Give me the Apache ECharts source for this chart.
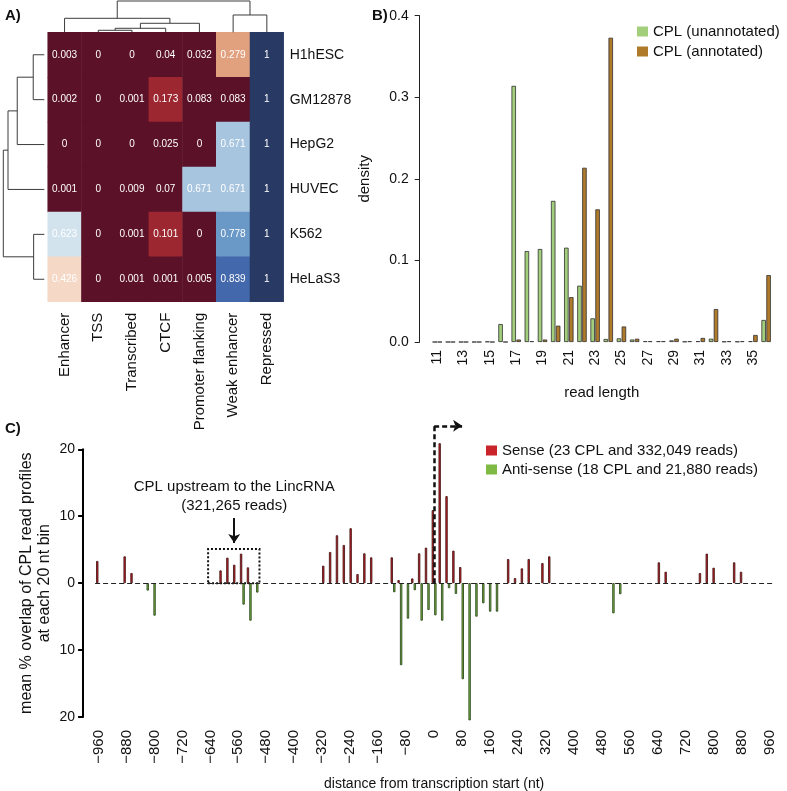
<!DOCTYPE html>
<html><head><meta charset="utf-8">
<script src="https://cdn.jsdelivr.net/npm/echarts@6/dist/echarts.min.js"></script>
<style>html,body{margin:0;padding:0;background:#fff}#c{width:787px;height:791px}</style>
</head><body><div id="c"></div>
<script>
// ---------- Panel A data ----------
const states = ['Enhancer','TSS','Transcribed','CTCF','Promoter flanking','Weak enhancer','Repressed'];
const cellLines = ['H1hESC','GM12878','HepG2','HUVEC','K562','HeLaS3'];
const rowH1hESC  = [0.003,0,0,0.04,0.032,0.279,1];
const rowGM12878 = [0.002,0,0.001,0.173,0.083,0.083,1];
const rowHepG2   = [0,0,0,0.025,0,0.671,1];
const rowHUVEC   = [0.001,0,0.009,0.07,0.671,0.671,1];
const rowK562    = [0.623,0,0.001,0.101,0,0.778,1];
const rowHeLaS3  = [0.426,0,0.001,0.001,0.005,0.839,1];
const colTree = {h:1.0, c:[{h:0.447, c:['Enhancer',{h:0.288, c:[{h:0.128, c:[{h:0.064, c:['TSS','Transcribed']},'CTCF']},'Promoter flanking']}]},{h:0.553, c:['Weak enhancer','Repressed']}]};
const rowTree = {h:1.0, c:[{h:0.885, c:[{h:0.66, c:[{h:0.27, c:['H1hESC','GM12878']},'HepG2']},'HUVEC']},{h:0.26, c:['K562','HeLaS3']}]};

// ---------- Panel B data ----------
const readLengths = ['11','12','13','14','15','16','17','18','19','20','21','22','23','24','25','26','27','28','29','30','31','32','33','34','35','36'];
const cplUnannotated = [0,0,0,0,0.0005,0.022,0.314,0.1115,0.114,0.173,0.1156,0.069,0.029,0.0037,0.0045,0.003,0.001,0.001,0.002,0.0005,0.001,0.004,0.0005,0.0005,0.001,0.027];
const cplAnnotated   = [0,0,0,0,0,0,0.003,0.001,0.003,0.02,0.055,0.2136,0.1626,0.373,0.019,0.004,0.001,0.001,0.004,0.001,0.005,0.0404,0.001,0.001,0.0086,0.082];

// ---------- Panel C data (99 bins of 20 nt spanning -960..960) ----------
const binCount = 99;
const senseBins = [0,4,5,18,19,20,21,22,33,34,35,36,37,38,39,40,43,44,46,47,48,49,50,51,52,53,60,61,62,63,65,66,82,83,88,89,90,93,94];
const senseVals = [3.3,4.0,1.5,1.9,3.8,2.75,4.4,2.35,2.6,4.65,7.15,5.7,8.2,1.35,4.45,3.85,3.85,0.45,0.7,4.45,5.3,10.9,20.9,13.0,4.85,2.4,3.6,0.75,2.2,3.6,3.0,4.0,3.1,1.7,1.5,4.4,2.3,3.1,1.7];
const antiBins  = [7,8,21,22,23,43,44,45,46,47,48,49,50,51,52,53,54,55,56,57,58,75,76];
const antiVals  = [-1.1,-4.85,-3.2,-5.6,-1.4,-1.35,-12.25,-5.3,-1.05,-5.6,-4.0,-4.8,-5.6,-0.75,-1.6,-14.35,-20.5,-5.0,-3.0,-4.25,-4.25,-4.5,-1.65];
const distTicks = {min:-960, max:960, step:80};

// ---------- build ----------
const FONT = '"Liberation Sans", Arial, Helvetica, sans-serif';
const heatRows = [rowH1hESC,rowGM12878,rowHepG2,rowHUVEC,rowK562,rowHeLaS3];
const heatData = [];
heatRows.forEach((r,ri)=>r.forEach((v,ci)=>heatData.push([ci,ri,v])));

function treeSegs(tree, order){
  const segs=[];
  (function lay(n){
    if(typeof n==='string') return {p:order.indexOf(n), h:0};
    const a=lay(n.c[0]), b=lay(n.c[1]);
    segs.push([a.p,a.h,b.p,b.h,n.h]);
    return {p:(a.p+b.p)/2, h:n.h};
  })(tree);
  return segs;
}
function dendro(horizontal){
  return function(params, api){
    const a=api.value(0), ah=api.value(1), b=api.value(2), bh=api.value(3), h=api.value(4);
    const raw = horizontal ? [[ah,a],[h,a],[h,b],[bh,b]] : [[a,ah],[a,h],[b,h],[b,bh]];
    return {type:'polyline', shape:{points:raw.map(p=>api.coord(p))}, style:{stroke:'#3c3c3c', lineWidth:1, fill:null}};
  };
}
const bins = Array.from({length:binCount},(_,i)=>String(i));
const senseData = bins.map(()=>'-'); senseBins.forEach((b,i)=>senseData[b]=senseVals[i]);
const antiData = bins.map(()=>'-'); antiBins.forEach((b,i)=>antiData[b]=antiVals[i]);
const minus = v => v<0 ? '\u2212'+(-v) : String(v);

const txt = {color:'#111', fontFamily:FONT};
const option = {
  animation:false,
  backgroundColor:'#fff',
  textStyle:{fontFamily:FONT},
  title:[
    {text:'A)', left:5, top:8, padding:0, textStyle:{fontSize:15, fontWeight:'bold', color:'#111', fontFamily:FONT}},
    {text:'B)', left:372, top:8, padding:0, textStyle:{fontSize:15, fontWeight:'bold', color:'#111', fontFamily:FONT}},
    {text:'C)', left:5, top:421, padding:0, textStyle:{fontSize:15, fontWeight:'bold', color:'#111', fontFamily:FONT}}
  ],
  legend:[
    {data:['CPL (unannotated)','CPL (annotated)'], left:632, top:19, orient:'vertical', itemWidth:11, itemHeight:10, itemGap:5, selectedMode:false, icon:'rect', itemStyle:{borderWidth:0}, textStyle:Object.assign({fontSize:15},txt)},
    {data:['Sense (23 CPL and 332,049 reads)','Anti-sense (18 CPL and 21,880 reads)'], left:481, top:438, orient:'vertical', itemWidth:11, itemHeight:10, itemGap:4, selectedMode:false, icon:'rect', itemStyle:{borderWidth:0}, textStyle:Object.assign({fontSize:15},txt)}
  ],
  visualMap:[{type:'piecewise', show:false, seriesIndex:0, dimension:2, pieces:[
    {gte:0, lt:0.1, color:'#5b1128'},
    {gte:0.1, lt:0.2, color:'#9d2731'},
    {gte:0.2, lt:0.3, color:'#e1a17f'},
    {gte:0.3, lt:0.5, color:'#f5d9c6'},
    {gte:0.5, lt:0.65, color:'#d2e3ee'},
    {gte:0.65, lt:0.7, color:'#a7c5df'},
    {gte:0.7, lt:0.8, color:'#6a99c8'},
    {gte:0.8, lt:0.9, color:'#4368ab'},
    {gte:0.9, lte:1, color:'#283a63'}
  ]}],
  grid:[
    {left:47.7, top:32.3, width:236, height:269.4, outerBoundsMode:'none'},
    {left:47.7, top:1, width:236, height:31.3, outerBoundsMode:'none'},
    {left:3.3, top:32.3, width:41, height:269.4, outerBoundsMode:'none'},
    {left:430.7, top:15.7, width:342, height:326.3, outerBoundsMode:'none'},
    {left:95.1, top:449.3, width:678, height:267.7, outerBoundsMode:'none'},
    {left:98.5, top:422.5, width:671.3, height:294.5, outerBoundsMode:'none'}
  ],
  xAxis:[
    {type:'category', gridIndex:0, data:states, axisLine:{show:false}, axisTick:{show:false}, splitLine:{show:false},
     axisLabel:Object.assign({rotate:90, margin:11, fontSize:15, interval:0}, txt)},
    {type:'value', gridIndex:1, min:-0.5, max:6.5, show:false, splitLine:{show:false}},
    {type:'value', gridIndex:2, min:0, max:1, inverse:true, show:false, splitLine:{show:false}},
    {type:'category', gridIndex:3, data:readLengths, axisLine:{show:false}, axisTick:{show:false}, splitLine:{show:false},
     axisLabel:Object.assign({rotate:90, interval:1, margin:8, fontSize:14}, txt),
     name:'read length', nameLocation:'middle', nameGap:43, nameMoveOverlap:false, nameTextStyle:Object.assign({fontSize:15}, txt)},
    {type:'category', gridIndex:4, data:bins, show:false},
    {type:'value', gridIndex:5, min:distTicks.min, max:distTicks.max, interval:distTicks.step,
     axisLine:{show:false}, axisTick:{show:false}, splitLine:{show:false},
     axisLabel:Object.assign({rotate:90, margin:13, fontSize:15, formatter:minus}, txt),
     name:'distance from transcription start (nt)', nameLocation:'middle', nameGap:60, nameMoveOverlap:false, nameTextStyle:Object.assign({fontSize:14}, txt)}
  ],
  yAxis:[
    {type:'category', gridIndex:0, data:cellLines, inverse:true, position:'right', axisLine:{show:false}, axisTick:{show:false}, splitLine:{show:false},
     axisLabel:Object.assign({margin:6, fontSize:14, interval:0}, txt)},
    {type:'value', gridIndex:1, min:0, max:1, show:false, splitLine:{show:false}},
    {type:'value', gridIndex:2, min:-0.5, max:5.5, inverse:true, show:false, splitLine:{show:false}},
    {type:'value', gridIndex:3, min:0, max:0.4, interval:0.1, offset:11,
     axisLine:{show:true, lineStyle:{color:'#222', width:1}}, axisTick:{show:true, length:5, lineStyle:{color:'#222', width:1}}, splitLine:{show:false},
     axisLabel:Object.assign({formatter:v=>v.toFixed(1), margin:11, fontSize:14}, txt),
     name:'density', nameLocation:'middle', nameGap:47, nameMoveOverlap:false, nameRotate:90, nameTextStyle:Object.assign({fontSize:15}, txt)},
    {type:'value', gridIndex:4, min:-20, max:20, interval:10, offset:12,
     axisLine:{show:true, lineStyle:{color:'#000', width:2}}, axisTick:{show:true, length:5, lineStyle:{color:'#000', width:2}}, splitLine:{show:false},
     axisLabel:Object.assign({formatter:v=>String(Math.abs(v)), margin:8, fontSize:14}, txt),
     name:'mean % overlap of CPL read profiles\nat each 20 nt bin', nameLocation:'middle', nameGap:30, nameMoveOverlap:false, nameRotate:90,
     nameTextStyle:Object.assign({fontSize:16, lineHeight:18}, txt)},
    {type:'value', gridIndex:5, min:-20, max:24, show:false, splitLine:{show:false}}
  ],
  series:[
    {type:'heatmap', xAxisIndex:0, yAxisIndex:0, data:heatData, silent:true,
     label:{show:true, color:'#fff', fontSize:10, fontFamily:FONT, formatter:p=>String(p.value[2])},
     itemStyle:{borderWidth:0}},
    {type:'custom', xAxisIndex:1, yAxisIndex:1, silent:true, renderItem:dendro(false), data:treeSegs(colTree, states), encode:{x:[0,2], y:[1,3,4]}},
    {type:'custom', xAxisIndex:2, yAxisIndex:2, silent:true, renderItem:dendro(true), data:treeSegs(rowTree, cellLines), encode:{x:[1,3,4], y:[0,2]}},
    {type:'bar', name:'CPL (unannotated)', xAxisIndex:3, yAxisIndex:3, data:cplUnannotated, barWidth:4.5, barGap:'10%', silent:true,
     itemStyle:{color:'#a3cf7d', borderColor:'#2e2e2e', borderWidth:0.8}},
    {type:'bar', name:'CPL (annotated)', xAxisIndex:3, yAxisIndex:3, data:cplAnnotated, barWidth:4.5, barGap:'10%', silent:true,
     itemStyle:{color:'#b07a2b', borderColor:'#2e2e2e', borderWidth:0.8}},
    {type:'bar', name:'Sense (23 CPL and 332,049 reads)', xAxisIndex:4, yAxisIndex:4, data:senseData, barWidth:2.3, barGap:'10%', clip:false, silent:true,
     itemStyle:{color:'#c8242a', borderColor:'#3a0c0c', borderWidth:0.8},
     markArea:{silent:true, itemStyle:{color:'rgba(0,0,0,0)', borderColor:'#111', borderWidth:2, borderType:'dotted'},
       data:[[{xAxis:bins[17], yAxis:0},{xAxis:bins[23], yAxis:5.1}]]},
     markLine:{silent:true, symbol:['none','none'], symbolSize:9, label:{show:false}, animation:false,
       data:[
         {yAxis:0, lineStyle:{color:'#222', width:1, type:[5,3]}},
         [{coord:[bins[20],9.75], lineStyle:{color:'#111', width:2, type:'solid'}},{coord:[bins[20],6.0], symbol:'arrow'}]
       ]},
     markPoint:{silent:true, symbol:'rect', symbolSize:1, itemStyle:{color:'rgba(0,0,0,0)'},
       data:[{coord:[bins[20],13.0], label:{show:true, position:'inside', formatter:'CPL upstream to the LincRNA\n(321,265 reads)', fontSize:15, lineHeight:19, color:'#111', fontFamily:FONT}}]}
    },
    {type:'bar', name:'Anti-sense (18 CPL and 21,880 reads)', xAxisIndex:4, yAxisIndex:4, data:antiData, barWidth:2.3, barGap:'10%', clip:false, silent:true,
     itemStyle:{color:'#7fba45', borderColor:'#1e3a10', borderWidth:0.8}},
    {type:'line', name:'TSS', xAxisIndex:5, yAxisIndex:5, data:[], silent:true,
     markLine:{silent:true, symbol:['none','none'], symbolSize:9, label:{show:false}, animation:false,
       lineStyle:{color:'#111', width:2.5, type:[5,3]},
       data:[
         [{coord:[0,0]},{coord:[0,23.5]}],
         [{coord:[0,23.5]},{coord:[80,23.5], symbol:'arrow'}]
       ]}}
  ]
};
const chart = echarts.init(document.getElementById('c'), null, {renderer:'canvas'});
chart.setOption(option);
</script>
</body></html>
